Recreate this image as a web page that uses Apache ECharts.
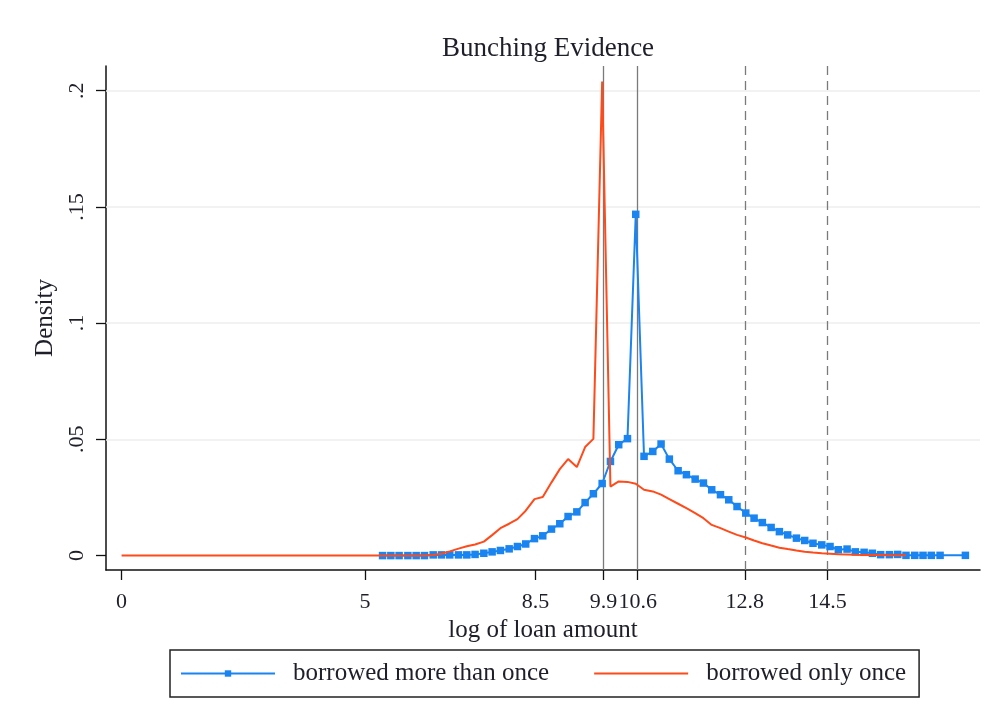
<!DOCTYPE html>
<html>
<head>
<meta charset="utf-8">
<script src="https://cdn.jsdelivr.net/npm/echarts@6/dist/echarts.min.js"></script>
<style>
  html, body { margin: 0; padding: 0; background: #ffffff; }
  #chart { width: 997px; height: 727px; }
</style>
</head>
<body>
<div id="chart"></div>
<script>
// Bin centres (log of loan amount) for the repeat-borrower density
const repeatX = [
  5.36, 5.53, 5.70, 5.88, 6.05, 6.22, 6.40, 6.57, 6.74, 6.92,
  7.09, 7.26, 7.44, 7.61, 7.78, 7.96, 8.13, 8.30, 8.48, 8.65,
  8.83, 9.00, 9.17, 9.35, 9.52, 9.69, 9.87, 10.04, 10.21, 10.39,
  10.56, 10.73, 10.91, 11.08, 11.25, 11.43, 11.60, 11.78, 11.95, 12.12,
  12.30, 12.47, 12.64, 12.82, 12.99, 13.16, 13.34, 13.51, 13.68, 13.86,
  14.03, 14.20, 14.38, 14.55, 14.72, 14.90, 15.07, 15.25, 15.42, 15.59,
  15.77, 15.94, 16.11, 16.29, 16.46, 16.63, 16.81, 17.33
];
// Density: borrowed more than once
const repeatDensity = [
  0, 0, 0, 0, 0, 0, 0.0003, 0.0003, 0.0003, 0.0003,
  0.0003, 0.0005, 0.0010, 0.0016, 0.0022, 0.0029, 0.0039, 0.0050, 0.0073, 0.0085,
  0.0114, 0.0137, 0.0168, 0.0188, 0.0228, 0.0266, 0.0310, 0.0405, 0.0477, 0.0503,
  0.1468, 0.0427, 0.0448, 0.0480, 0.0415, 0.0365, 0.0348, 0.0329, 0.0312, 0.0283,
  0.0262, 0.0240, 0.0211, 0.0183, 0.0161, 0.0142, 0.0121, 0.0103, 0.0089, 0.0075,
  0.0065, 0.0053, 0.0046, 0.0039, 0.0025, 0.0028, 0.0016, 0.0014, 0.0010, 0.0004,
  0.0004, 0.0005, 0.0001, 0.0001, 0.0001, 0.0001, 0.0001, 0.0001
];
// Bin centres for the one-time borrower density (starts at zero)
const onceX = [
  0,
  5.36, 5.53, 5.70, 5.88, 6.05, 6.22, 6.40, 6.57, 6.74, 6.92,
  7.09, 7.26, 7.44, 7.61, 7.78, 7.96, 8.13, 8.30, 8.48, 8.65,
  8.83, 9.00, 9.17, 9.35, 9.52, 9.69, 9.87, 10.04, 10.21, 10.39,
  10.56, 10.73, 10.91, 11.08, 11.25, 11.43, 11.60, 11.78, 11.95, 12.12,
  12.30, 12.47, 12.64, 12.82, 12.99, 13.16, 13.34, 13.51, 13.68, 13.86,
  14.03, 14.20, 14.38, 14.55, 14.72, 14.90, 15.07, 15.25, 15.42, 15.59,
  15.77, 15.94, 16.11
];
// Density: borrowed only once
const onceDensity = [
  0,
  0, 0, 0, 0, 0, 0, 0.0003, 0.0008, 0.0018, 0.0030,
  0.0040, 0.0048, 0.0060, 0.0088, 0.0118, 0.0137, 0.0157, 0.0193, 0.0243, 0.0252,
  0.0315, 0.0372, 0.0415, 0.0381, 0.0467, 0.0502, 0.2039, 0.0297, 0.0319, 0.0317,
  0.0309, 0.0283, 0.0276, 0.0262, 0.0243, 0.0223, 0.0204, 0.0183, 0.0161, 0.0132,
  0.0118, 0.0103, 0.0089, 0.0078, 0.0065, 0.0053, 0.0043, 0.0034, 0.0028, 0.0022,
  0.0017, 0.0013, 0.0010, 0.0008, 0.0006, 0.0005, 0.0004, 0.0003, 0.0003, 0.0002,
  0.0001, 0.0001, 0.0001
];

const xTicks = [0, 5, 8.5, 9.9, 10.6, 12.8, 14.5];
const yTicks = [0, 0.05, 0.1, 0.15, 0.2];
const solidRefs = [9.9, 10.6];
const dashedRefs = [12.8, 14.5];
const seriesNames = ['borrowed more than once', 'borrowed only once'];

const FONT = 'Liberation Serif';
const INK = '#1f1f2a';
const BLUE = '#1a84f0';
const RED = '#ff4a1a';

function pairs(xs, ys) {
  return xs.map((x, i) => [x, ys[i]]);
}

function yLabel(v) {
  if (v === 0) return '0';
  return String(v).replace(/^0/, '');
}

const chart = echarts.init(document.getElementById('chart'), null, { renderer: 'canvas' });

const refLines = []
  .concat(yTicks.filter(v => v > 0).map(v => ({
    yAxis: v,
    lineStyle: { color: '#eeeeee', width: 1.5, type: 'solid' }
  })))
  .concat(solidRefs.map(v => ({
    xAxis: v,
    lineStyle: { color: '#7a7a7a', width: 1.3, type: 'solid' }
  })))
  .concat(dashedRefs.map(v => ({
    xAxis: v,
    lineStyle: { color: '#7a7a7a', width: 1.3, type: [9, 6] }
  })));

chart.setOption({
  backgroundColor: '#ffffff',
  animation: false,
  title: {
    text: 'Bunching Evidence',
    left: 543,
    textAlign: 'center',
    top: 30,
    textStyle: { fontFamily: FONT, fontSize: 27, fontWeight: 'normal', color: INK }
  },
  grid: { left: 106, right: 17, top: 66, bottom: 157 },
  legend: {
    data: [
      { name: seriesNames[0] },
      { name: seriesNames[1], itemStyle: { opacity: 0 } }
    ],
    left: 170,
    top: 650,
    itemWidth: 94,
    itemHeight: 8,
    itemGap: 44,
    padding: [11, 13, 11, 10],
    borderColor: '#222222',
    borderWidth: 1.5,
    textStyle: { fontFamily: FONT, fontSize: 25, color: INK, padding: [0, 0, 0, 13] }
  },
  xAxis: {
    type: 'value',
    min: -0.32,
    max: 17.63,
    name: 'log of loan amount',
    nameLocation: 'middle',
    nameGap: 43,
    nameTextStyle: { fontFamily: FONT, fontSize: 25, color: INK },
    axisLine: { show: true, onZero: false, lineStyle: { color: '#111111', width: 1.5 } },
    axisTick: { show: true, length: 10, customValues: xTicks, lineStyle: { color: '#111111', width: 1.3 } },
    axisLabel: {
      customValues: xTicks,
      formatter: v => String(v),
      fontFamily: FONT, fontSize: 22, color: INK, margin: 21
    },
    splitLine: { show: false }
  },
  yAxis: {
    type: 'value',
    min: -0.0062,
    max: 0.2106,
    name: 'Density',
    nameLocation: 'middle',
    nameGap: 44,
    nameRotate: 90,
    nameTextStyle: { fontFamily: FONT, fontSize: 25, color: INK },
    axisLine: { show: true, onZero: false, lineStyle: { color: '#111111', width: 1.5 } },
    axisTick: { show: true, length: 10, customValues: yTicks, lineStyle: { color: '#111111', width: 1.3 } },
    axisLabel: {
      customValues: yTicks,
      formatter: yLabel,
      rotate: 90,
      fontFamily: FONT, fontSize: 22, color: INK, margin: 18
    },
    splitLine: { show: false }
  },
  series: [
    {
      name: seriesNames[0],
      type: 'line',
      data: pairs(repeatX, repeatDensity),
      symbol: 'rect',
      symbolSize: 7.5,
      showSymbol: true,
      itemStyle: { color: BLUE },
      lineStyle: { color: BLUE, width: 2 },
      z: 3,
      markLine: {
        silent: true,
        symbol: 'none',
        label: { show: false },
        data: refLines,
        z: 1
      }
    },
    {
      name: seriesNames[1],
      type: 'line',
      data: pairs(onceX, onceDensity),
      symbol: 'none',
      showSymbol: false,
      itemStyle: { color: RED },
      lineStyle: { color: RED, width: 2 },
      z: 4
    }
  ]
});
</script>
</body>
</html>
